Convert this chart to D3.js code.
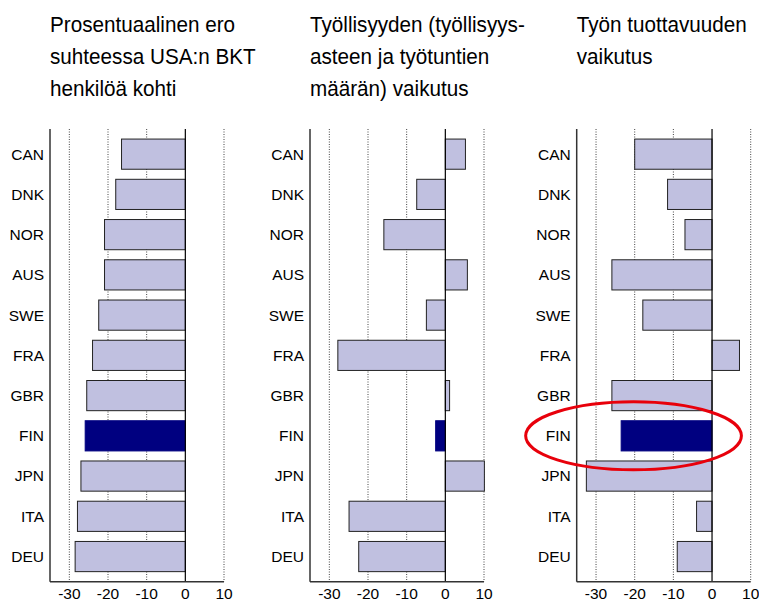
<!DOCTYPE html>
<meta charset="utf-8">
<head><title>BKT ero USA:han</title>
<style>
body { margin: 0; background: #fff; }
text { font-family: "Liberation Sans", Arial, sans-serif; fill: #000; }
.grid line { stroke: #444; stroke-width: 1; stroke-dasharray: 1,1.5; }
</style>
</head>
<body>
<svg width="759" height="601"></svg>
<script src="https://cdn.jsdelivr.net/npm/d3@7"></script>
<script>

// data
var countries = ["CAN","DNK","NOR","AUS","SWE","FRA","GBR","FIN","JPN","ITA","DEU"];
var gdpGap     = [-16.5,-18.0,-20.9,-20.9,-22.4,-24.0,-25.5,-25.9,-27.0,-27.9,-28.5];
var employment = [5.2,-7.4,-15.9,5.7,-4.9,-27.8,1.1,-2.5,10.1,-24.9,-22.4];
var productivity = [-20.0,-11.5,-7.0,-25.9,-17.9,7.1,-25.9,-23.5,-32.5,-4.0,-9.0];
var tickValues = [-30,-20,-10,0,10];
var titles = [
  ["Prosentuaalinen ero", "suhteessa USA:n BKT", "henkilöä kohti"],
  ["Työllisyyden (työllisyys-", "asteen ja työtuntien", "määrän) vaikutus"],
  ["Työn tuottavuuden", "vaikutus"]
];
var highlight = "FIN";

var svg = d3.select("svg");
var panelX = [50, 310, 576.7];
var panelData = [gdpGap, employment, productivity];

var x = d3.scaleLinear().domain([-35, 10]).range([0, 174]);
var y = d3.scaleBand().domain(countries).range([129, 581.7]).padding(0.25);

panelData.forEach(function(vals, p) {
  var g = svg.append("g").attr("transform", "translate(" + panelX[p] + ",0)");

  // title (original font is a bit narrower)
  g.append("g").attr("transform", "scale(0.94,1)")
    .selectAll("text")
    .data(titles[p])
    .enter().append("text")
      .attr("x", 0)
      .attr("y", function(d, i) { return 32.5 + i * 32; })
      .style("font-size", "22px")
      .text(function(d) { return d; });

  // dotted grid
  g.append("g").attr("class", "grid")
    .selectAll("line")
    .data(tickValues.filter(function(t) { return t != 0; }))
    .enter().append("line")
      .attr("x1", function(d) { return x(d); })
      .attr("x2", function(d) { return x(d); })
      .attr("y1", y.range()[0])
      .attr("y2", y.range()[1]);

  // bars
  g.append("g").selectAll("rect")
    .data(countries)
    .enter().append("rect")
      .attr("x", function(d, i) { return x(Math.min(0, vals[i])); })
      .attr("width", function(d, i) { return Math.abs(x(vals[i]) - x(0)); })
      .attr("y", function(d) { return y(d); })
      .attr("height", y.bandwidth())
      .attr("fill", function(d) { return d == highlight ? "#000080" : "#c0c0e0"; })
      .attr("stroke", function(d) { return d == highlight ? "#000080" : "#222"; })
      .attr("stroke-width", 1);

  // zero line
  g.append("line")
    .attr("x1", x(0)).attr("x2", x(0))
    .attr("y1", y.range()[0]).attr("y2", y.range()[1])
    .attr("stroke", "#000").attr("stroke-width", 1.2);

  // axes frame
  g.append("line")
    .attr("x1", 0).attr("x2", 0)
    .attr("y1", y.range()[0]).attr("y2", y.range()[1])
    .attr("stroke", "#333").attr("stroke-width", 1.5);
  g.append("line")
    .attr("x1", 0).attr("x2", x(10))
    .attr("y1", y.range()[1]).attr("y2", y.range()[1])
    .attr("stroke", "#333").attr("stroke-width", 1.5);

  // category labels
  g.append("g").selectAll("text")
    .data(countries)
    .enter().append("text")
      .attr("x", -6)
      .attr("y", function(d) { return y(d) + y.bandwidth() / 2; })
      .attr("dy", "0.35em")
      .attr("text-anchor", "end")
      .style("font-size", "15.5px")
      .text(function(d) { return d; });

  // tick labels
  g.append("g").selectAll("text")
    .data(tickValues)
    .enter().append("text")
      .attr("x", function(d) { return x(d); })
      .attr("y", 599)
      .attr("text-anchor", "middle")
      .style("font-size", "15.5px")
      .text(function(d) { return d; });

  // circle round the highlighted bar in the last panel
  if (p == 2) {
    g.append("ellipse")
      .attr("cx", x(-20.3))
      .attr("cy", y(highlight) + y.bandwidth() / 2)
      .attr("rx", x(-20.3) - x(-48.2))
      .attr("ry", 34)
      .attr("fill", "none")
      .attr("stroke", "#e8000b")
      .attr("stroke-width", 3);
  }
});

</script>
</body>
